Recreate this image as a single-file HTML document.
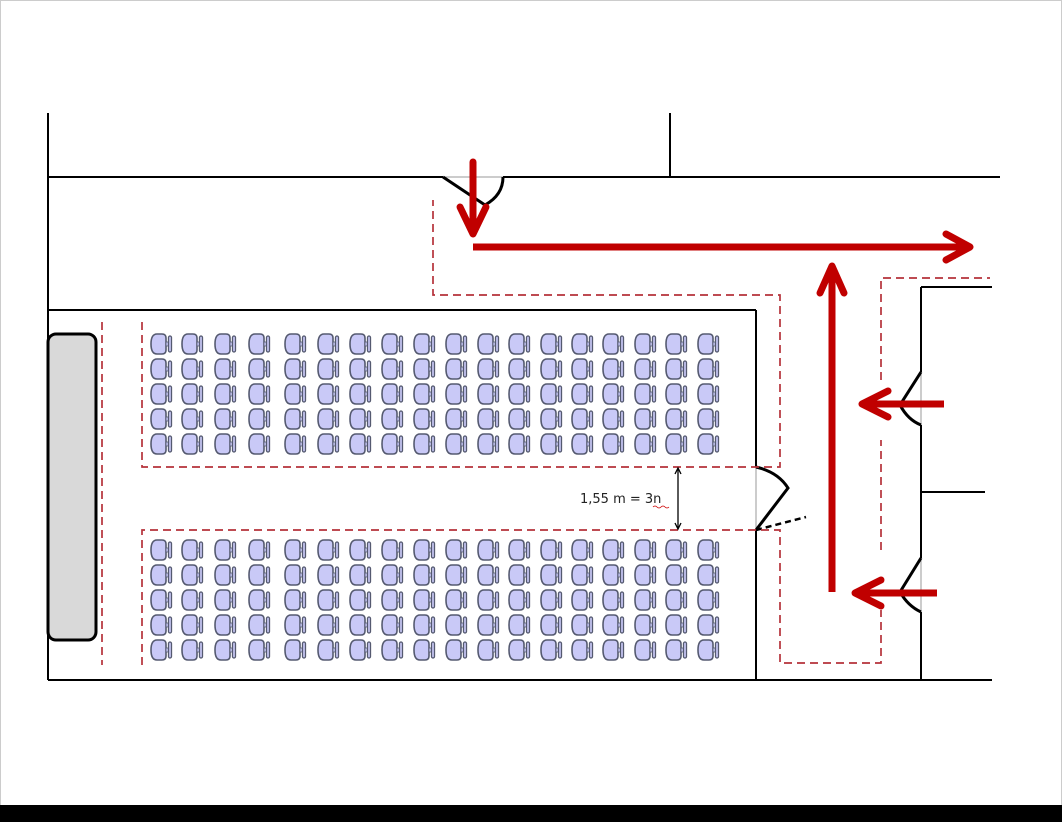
<!DOCTYPE html>
<html><head><meta charset="utf-8"><style>
html,body{margin:0;padding:0;background:#fff}
svg{display:block}
text{font-family:"DejaVu Sans","Liberation Sans",sans-serif}
</style></head><body>
<svg width="1062" height="822" viewBox="0 0 1062 822" xmlns="http://www.w3.org/2000/svg">
<defs>
<symbol id="ch" viewBox="0 0 22 22" width="22" height="22" overflow="visible">
<path d="M7,1 H12 Q16,1 16,5 V17 Q16,21 12,21 H7 Q1,21 1,11 Q1,1 7,1 Z" fill="#c9c9f7" stroke="#555a70" stroke-width="1.6"/>
<rect x="16" y="9" width="2.5" height="4" fill="#c9c9f7" stroke="#555a70" stroke-width="0.8"/>
<rect x="18.5" y="3" width="3" height="16" rx="1.5" fill="#c9c9f7" stroke="#555a70" stroke-width="1.3"/>
</symbol>
</defs>
<rect x="0.5" y="0.5" width="1061" height="820" fill="#fff" stroke="#ccc"/>
<rect x="0" y="805" width="1062" height="17" fill="#000"/>

<g stroke="#000" stroke-width="2" fill="none">
<line x1="48" y1="113" x2="48" y2="680"/>
<line x1="48" y1="177" x2="443" y2="177"/>
<line x1="503" y1="177" x2="1000" y2="177"/>
<line x1="670" y1="113" x2="670" y2="177"/>
<line x1="48" y1="310" x2="756" y2="310"/>
<line x1="756" y1="310" x2="756" y2="467"/>
<line x1="756" y1="530" x2="756" y2="680"/>
<line x1="48" y1="680" x2="992" y2="680"/>
<line x1="921" y1="287" x2="992" y2="287"/>
<line x1="921" y1="287" x2="921" y2="372"/>
<line x1="921" y1="425" x2="921" y2="558"/>
<line x1="921" y1="612" x2="921" y2="680"/>
<line x1="921" y1="492" x2="985" y2="492"/>
</g>
<g stroke="#999" stroke-width="1"><line x1="443" y1="177" x2="503" y2="177"/><line x1="756" y1="467" x2="756" y2="530"/><line x1="921" y1="372" x2="921" y2="425"/><line x1="921" y1="558" x2="921" y2="612"/></g>
<g stroke="#000" stroke-width="3" fill="none">
<path d="M443,177 L485,205 Q503,195 503,177"/>
<path d="M756,467 Q778,472 788,488 L756,530"/>
<path d="M921,372 L900,405 Q908,420 921,425"/>
<path d="M921,558 L900,592 Q908,606 921,612"/>
</g>
<line x1="756" y1="530" x2="806" y2="517" stroke="#000" stroke-width="2.5" stroke-dasharray="6,4"/>

<rect x="48" y="334" width="48" height="306" rx="8" fill="#d9d9d9" stroke="#000" stroke-width="3"/>

<g stroke="#b5323a" stroke-width="1.7" fill="none" stroke-dasharray="8,5">
<line x1="102" y1="322" x2="102" y2="665"/>
<polyline points="142,322 142,467 780,467 780,295 433,295 433,200"/>
<polyline points="142,665 142,530 780,530 780,663 881,663 881,610"/>
<line x1="881" y1="550" x2="881" y2="440"/>
<polyline points="881,380 881,278 990,278"/>
</g>

<g id="top">
<use href="#ch" x="150" y="333"/><use href="#ch" x="181" y="333"/><use href="#ch" x="214" y="333"/><use href="#ch" x="248" y="333"/><use href="#ch" x="284" y="333"/><use href="#ch" x="317" y="333"/><use href="#ch" x="349" y="333"/><use href="#ch" x="381" y="333"/><use href="#ch" x="413" y="333"/><use href="#ch" x="445" y="333"/><use href="#ch" x="477" y="333"/><use href="#ch" x="508" y="333"/><use href="#ch" x="540" y="333"/><use href="#ch" x="571" y="333"/><use href="#ch" x="602" y="333"/><use href="#ch" x="634" y="333"/><use href="#ch" x="665" y="333"/><use href="#ch" x="697" y="333"/>
</g>
<use href="#top" y="25"/><use href="#top" y="50"/><use href="#top" y="75"/><use href="#top" y="100"/>
<use href="#top" y="206"/><use href="#top" y="231"/><use href="#top" y="256"/><use href="#top" y="281"/><use href="#top" y="306"/>

<g stroke="#000" stroke-width="1.3" fill="none">
<line x1="678" y1="469" x2="678" y2="528"/>
<polyline points="675,474 678,468 681,474"/>
<polyline points="675,523 678,529 681,523"/>
</g>
<text x="580" y="503" font-size="13" fill="#222">1,55 m = 3n</text>
<path d="M653,507 q2,-2 4,0 t4,0 t4,0 t4,0" stroke="#c00" stroke-width="0.8" fill="none"/>

<g stroke="#c00000" stroke-width="7" fill="none" stroke-linecap="round" stroke-linejoin="round">
<line x1="473" y1="162" x2="473" y2="232"/>
<polyline points="460,207 473,234 486,207"/>
<line x1="473" y1="247" x2="968" y2="247" stroke-linecap="butt"/>
<polyline points="946,234 970,247 946,260"/>
<line x1="832" y1="592" x2="832" y2="270" stroke-linecap="butt"/>
<polyline points="820,293 832,266 844,293"/>
<line x1="944" y1="404" x2="864" y2="404" stroke-linecap="butt"/>
<polyline points="888,391 862,404 888,417"/>
<line x1="937" y1="593" x2="857" y2="593" stroke-linecap="butt"/>
<polyline points="881,580 855,593 881,606"/>
</g>
</svg>
</body></html>
